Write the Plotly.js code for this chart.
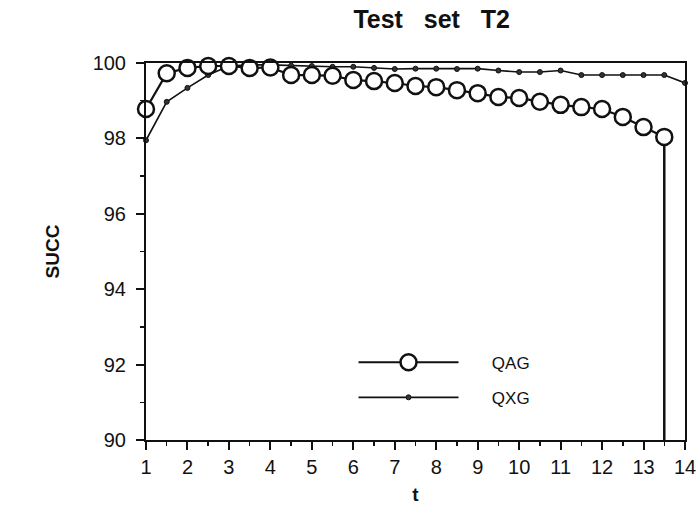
<!DOCTYPE html>
<html>
<head>
<meta charset="utf-8">
<script src="https://cdn.plot.ly/plotly-3.0.1.min.js"></script>
<style>html,body{margin:0;padding:0;background:#fff;}#chart{width:698px;height:519px;}</style>
</head>
<body>
<div id="chart"></div>
<script>
// t values (half-unit steps)
const tQAG = [1,1.5,2,2.5,3,3.5,4,4.5,5,5.5,6,6.5,7,7.5,8,8.5,9,9.5,10,10.5,11,11.5,12,12.5,13,13.5];
const succQAG = [98.78,99.73,99.87,99.92,99.92,99.87,99.88,99.68,99.68,99.66,99.55,99.52,99.47,99.39,99.36,99.28,99.2,99.1,99.07,98.97,98.89,98.83,98.78,98.57,98.3,98.04];
const tQXG = [1,1.5,2,2.5,3,3.5,4,4.5,5,5.5,6,6.5,7,7.5,8,8.5,9,9.5,10,10.5,11,11.5,12,12.5,13,13.5,14];
const succQXG = [97.95,98.97,99.34,99.68,99.92,99.95,99.95,99.93,99.92,99.9,99.9,99.87,99.84,99.85,99.85,99.84,99.85,99.8,99.76,99.76,99.8,99.68,99.68,99.68,99.68,99.68,99.47];
const seriesNames = ["QAG","QXG"];
const yFloor = 90;
const xTicks = [1,2,3,4,5,6,7,8,9,10,11,12,13,14];
const yTicks = [90,92,94,96,98,100];

const lastQAG = tQAG.length - 1;
const font = "Liberation Sans, Arial, Helvetica, sans-serif";
const pad = "\u00a0".repeat(6);
const gap = "\u00a0".repeat(3);

const traces = [
  {
    x: [tQAG[lastQAG], tQAG[lastQAG]], y: [succQAG[lastQAG], yFloor],
    mode: "lines", line: {color: "#111", width: 2.5}, showlegend: false, cliponaxis: false, hoverinfo: "skip"
  },
  {
    x: tQXG, y: succQXG, name: pad + seriesNames[1], mode: "lines+markers",
    line: {color: "#111", width: 1.6},
    marker: {symbol: "circle", size: 5, color: "#333", line: {color: "#111", width: 1}},
    cliponaxis: false, legend: "legend2"
  },
  {
    x: tQAG, y: succQAG, name: pad + seriesNames[0], mode: "lines+markers",
    line: {color: "#111", width: 2.2},
    marker: {symbol: "circle", size: 16, color: "#fff", line: {color: "#111", width: 2.5}},
    cliponaxis: false, legend: "legend"
  }
];

const layout = {
  width: 698, height: 519,
  margin: {l: 146, r: 13, t: 63, b: 79},
  paper_bgcolor: "#fff", plot_bgcolor: "#fff",
  font: {family: font, color: "#111", size: 20},
  title: {text: "<b>Test" + gap + "set" + gap + "T2</b>", font: {family: font, size: 25, color: "#111"},
          x: 0.53, xanchor: "center", y: 0.962, yanchor: "middle", xref: "paper"},
  xaxis: {
    range: [1, 14], tickvals: xTicks, ticktext: xTicks.map(String),
    showgrid: false, zeroline: false,
    showline: true, linecolor: "#111", linewidth: 2, mirror: true,
    ticks: "outside", ticklen: 8, tickwidth: 2, tickcolor: "#111",
    minor: {dtick: 0.5, ticks: "outside", ticklen: 4, tickwidth: 1.5, tickcolor: "#111", showgrid: false},
    tickfont: {family: font, size: 20, color: "#111"},
    title: {text: "<b>t</b>", font: {family: font, size: 19, color: "#111"}, standoff: 11}
  },
  yaxis: {
    range: [90, 100], tickvals: yTicks, ticktext: yTicks.map(String),
    showgrid: false, zeroline: false,
    showline: true, linecolor: "#111", linewidth: 2, mirror: true,
    ticks: "outside", ticklen: 8, tickwidth: 2, tickcolor: "#111",
    minor: {dtick: 1, ticks: "outside", ticklen: 4, tickwidth: 1.5, tickcolor: "#111", showgrid: false},
    tickfont: {family: font, size: 20, color: "#111"},
    ticklabelstandoff: 6,
    title: {text: "<b>SUCC</b>", font: {family: font, size: 19, color: "#111"}, standoff: 28}
  },
  legend: {
    x: 0.385, y: 0.205, xanchor: "left", yanchor: "middle",
    bgcolor: "rgba(0,0,0,0)", borderwidth: 0, itemwidth: 100,
    font: {family: font, size: 17, color: "#111"}
  },
  legend2: {
    x: 0.385, y: 0.112, xanchor: "left", yanchor: "middle",
    bgcolor: "rgba(0,0,0,0)", borderwidth: 0, itemwidth: 100,
    font: {family: font, size: 17, color: "#111"}
  },
  showlegend: true
};

Plotly.newPlot("chart", traces, layout, {displayModeBar: false, staticPlot: true});
</script>
</body>
</html>
